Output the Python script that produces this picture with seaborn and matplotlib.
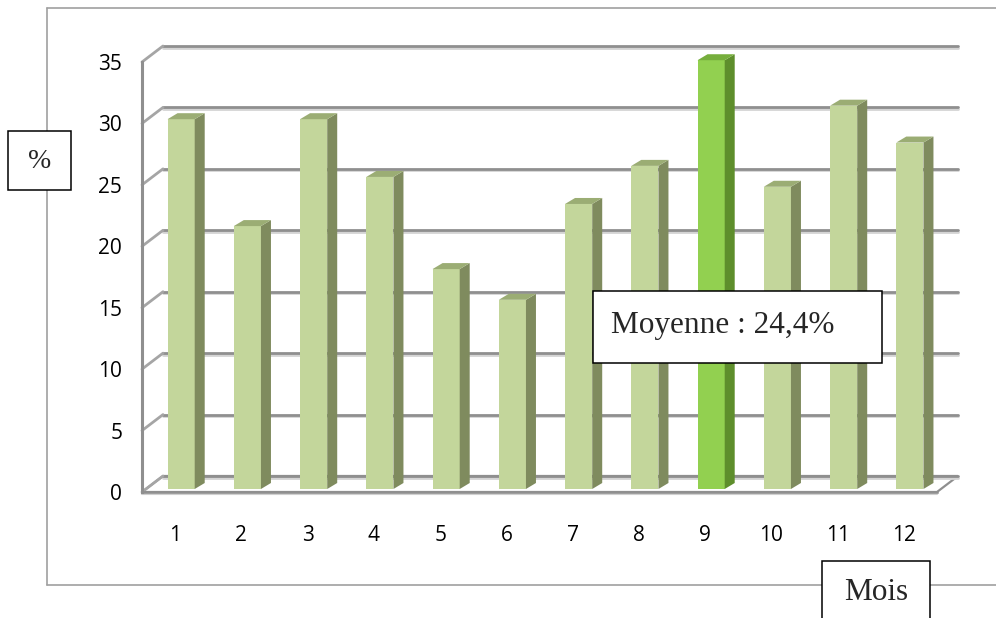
import numpy as np
import matplotlib.pyplot as plt
from matplotlib.patches import Polygon, Rectangle
from matplotlib.lines import Line2D
import seaborn as sns

# Données
mois = ['1', '2', '3', '4', '5', '6', '7', '8', '9', '10', '11', '12']
taux = [30.1, 21.4, 30.1, 25.4, 17.9, 15.4, 23.2, 26.3, 34.9, 24.6, 31.2, 28.2]
mois_max = '9'
graduations = [0, 5, 10, 15, 20, 25, 30, 35]
texte_moyenne = 'Moyenne : 24,4%'

sns.set_style('white')
plt.rcParams['font.family'] = ['Open Sans', 'DejaVu Sans']

W, H = 996, 618
fig = plt.figure(figsize=(W / 100, H / 100), dpi=100)
ax = fig.add_axes([142 / W, 1 - 492 / H, (937 - 142) / W, (492 - 62) / H])

# couleurs des faces (avant / côté / dessus)
c_avant = {m: '#C3D69B' for m in mois}
c_avant[mois_max] = '#92D050'
c_cote = {m: '#7F8B5E' for m in mois}
c_cote[mois_max] = '#5E8E2C'
c_haut = {m: '#9BAD74' for m in mois}
c_haut[mois_max] = '#76AE3C'

sns.barplot(x=mois, y=taux, hue=mois, palette=c_avant, width=0.41,
            saturation=1, legend=False, ax=ax, zorder=5)
barres = list(ax.patches)

ax.set_xlim(-0.5, len(mois) - 0.5)
ax.set_ylim(0, graduations[-1])

# pixels -> unités de données
sx = ax.bbox.width / len(mois)
sy = ax.bbox.height / graduations[-1]
mur_dx, mur_dy = 21 / sx, 16 / sy
prof_dx, prof_dy = 10 / sx, 6 / sy
dec_x, dec_y = 6 / sx, 3 / sy

x0, x1 = -0.5, len(mois) - 0.5

# sol
sol = Polygon([(x0, 0), (x1, 0), (x1 + mur_dx, mur_dy), (x0 + mur_dx, mur_dy)],
              closed=True, facecolor='white', edgecolor='#8f8f8f', lw=1.6,
              clip_on=False, zorder=1)
ax.add_patch(sol)
ax.plot([x0, x1], [-2 / sy] * 2, color='#d0d0d0', lw=1.5, clip_on=False, zorder=1)

# quadrillage sur le mur du fond + diagonales du mur gauche
for g in graduations:
    ax.plot([x0 + mur_dx, x1 + mur_dx], [g + mur_dy - 1.5 / sy] * 2,
            color='#d4d4d4', lw=2, clip_on=False, zorder=2)
    ax.plot([x0 + mur_dx, x1 + mur_dx], [g + mur_dy] * 2,
            color='#8f8f8f', lw=2, clip_on=False, zorder=2)
    ax.plot([x0, x0 + mur_dx], [g, g + mur_dy],
            color='#a5a5a5', lw=2, clip_on=False, zorder=2)

# barres 3D : on décale la face avant et on ajoute côté + dessus
for p, m in zip(barres, mois):
    p.set_x(p.get_x() + dec_x)
    p.set_y(p.get_y() + dec_y)
    p.set_edgecolor('none')
    p.set_clip_on(False)
    bx, bw, bh, by = p.get_x(), p.get_width(), p.get_height(), p.get_y()
    cote = Polygon([(bx + bw, by), (bx + bw + prof_dx, by + prof_dy),
                    (bx + bw + prof_dx, by + bh + prof_dy), (bx + bw, by + bh)],
                   closed=True, facecolor=c_cote[m], edgecolor='none',
                   clip_on=False, zorder=5)
    haut = Polygon([(bx, by + bh), (bx + bw, by + bh),
                    (bx + bw + prof_dx, by + bh + prof_dy), (bx + prof_dx, by + bh + prof_dy)],
                   closed=True, facecolor=c_haut[m], edgecolor='none',
                   clip_on=False, zorder=5)
    ax.add_patch(cote)
    ax.add_patch(haut)

# axes
for s in ['top', 'right']:
    ax.spines[s].set_visible(False)
ax.spines['left'].set_color('#8f8f8f')
ax.spines['left'].set_linewidth(2.2)
ax.spines['bottom'].set_color('#8f8f8f')
ax.spines['bottom'].set_linewidth(1.8)
ax.spines['left'].set_zorder(3)

ax.set_yticks(graduations)
ax.set_yticklabels([str(g) for g in graduations])
ax.tick_params(axis='y', length=4.3, width=1.4, color='#8f8f8f', pad=10,
               labelsize=15, labelcolor='black')
ax.set_xticks(range(len(mois)))
ax.set_xticklabels(mois)
ax.set_xticks(np.arange(len(mois) + 1) - 0.5, minor=True)
ax.tick_params(axis='x', which='major', length=0, pad=24, labelsize=15,
               labelcolor='black')
ax.tick_params(axis='x', which='minor', length=4.5, width=1.4, color='#a0a0a0')
ax.set_xlabel('')
ax.set_ylabel('')
ax.grid(False)
ax.patch.set_alpha(0)

# cadre extérieur du graphique
cadre = '#a0a0a0'
fig.add_artist(Line2D([47 / W, 47 / W], [1 - 8 / H, 1 - 585 / H], color=cadre, lw=1.2))
fig.add_artist(Line2D([47 / W, 1], [1 - 8 / H, 1 - 8 / H], color=cadre, lw=1.2))
fig.add_artist(Line2D([47 / W, 1], [1 - 585 / H, 1 - 585 / H], color=cadre, lw=1.2))


def boite(x_a, y_a, x_b, y_b):
    fig.add_artist(Rectangle((x_a / W, 1 - y_b / H), (x_b - x_a) / W, (y_b - y_a) / H,
                             transform=fig.transFigure, facecolor='white',
                             edgecolor='black', lw=1.1, zorder=10))


boite(8, 131, 71, 190)
fig.text(39.5 / W, 1 - 162 / H, '%', family='Liberation Serif', fontsize=20,
         ha='center', va='center', zorder=11)

boite(593, 291, 882, 363)
fig.text(611 / W, 1 - 325 / H, texte_moyenne, family='Liberation Serif', fontsize=22.5,
         ha='left', va='center', zorder=11)

boite(822, 561, 930, 625)
fig.text(876 / W, 1 - 592 / H, 'Mois', family='Liberation Serif', fontsize=22.5,
         ha='center', va='center', zorder=11)

plt.savefig('out.png', dpi=100)
